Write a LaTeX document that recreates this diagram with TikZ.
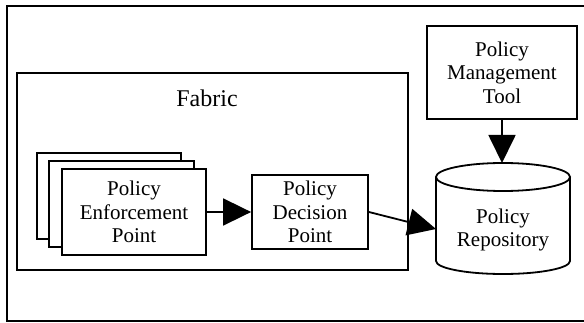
\documentclass[tikz,border=0pt]{standalone}
\usepackage{fontspec}
\setmainfont{Liberation Serif}
\usetikzlibrary{arrows.meta}
\tikzset{
  boxed/.style={draw, line width=1.8pt, fill=white, inner sep=0pt, align=center,
    font=\fontsize{21}{23.5}\selectfont},
  bigarrow/.style={line width=1.8pt, -{Triangle[length=28pt,width=27pt]}},
  frame/.style={line width=2pt},
}
\begin{document}
\begin{tikzpicture}[x=1pt,y=-1pt]
\useasboundingbox (0,0) rectangle (584,323);
% outer frame (open on right)
\draw[frame] (584,6) -- (7,6) -- (7,321) -- (584,321);
% fabric
\node[boxed, minimum width=391pt, minimum height=197pt] (fabric) at (212.5,171.5) {};
\node[font=\fontsize{24}{26}\selectfont] (fabriclbl) at (207,98) {Fabric};
% stacked PEPs
\node[boxed, minimum width=144pt, minimum height=86pt] (pepc) at (109,196) {};
\node[boxed, minimum width=145pt, minimum height=86pt] (pepb) at (121.5,204) {};
\node[boxed, minimum width=144pt, minimum height=86pt] (pep) at (134,212) {Policy\\Enforcement\\Point};
% PDP
\node[boxed, minimum width=116pt, minimum height=74pt] (pdp) at (310,212) {Policy\\Decision\\Point};
% management tool
\node[boxed, minimum width=150pt, minimum height=93pt] (mt) at (502,72.5) {Policy\\Management\\Tool};
% repository cylinder
\draw[line width=1.8pt] (436,177) -- (436,261) arc[start angle=180, end angle=360, x radius=67pt, y radius=13pt] -- (570,177);
\draw[line width=1.8pt] (503,177) ellipse [x radius=67pt, y radius=14pt];
\node[align=center, inner sep=0pt, font=\fontsize{21}{23.5}\selectfont] (repo) at (503,230) {Policy\\Repository};
\coordinate (repotop) at (502,163);
\coordinate (repoin) at (436,229);
% connectors
\draw[bigarrow] (pep.east) -- (pdp.west);
\draw[bigarrow] (pdp.east) -- (repoin);
\draw[bigarrow] (mt.south) -- (repotop);
\end{tikzpicture}
\end{document}
